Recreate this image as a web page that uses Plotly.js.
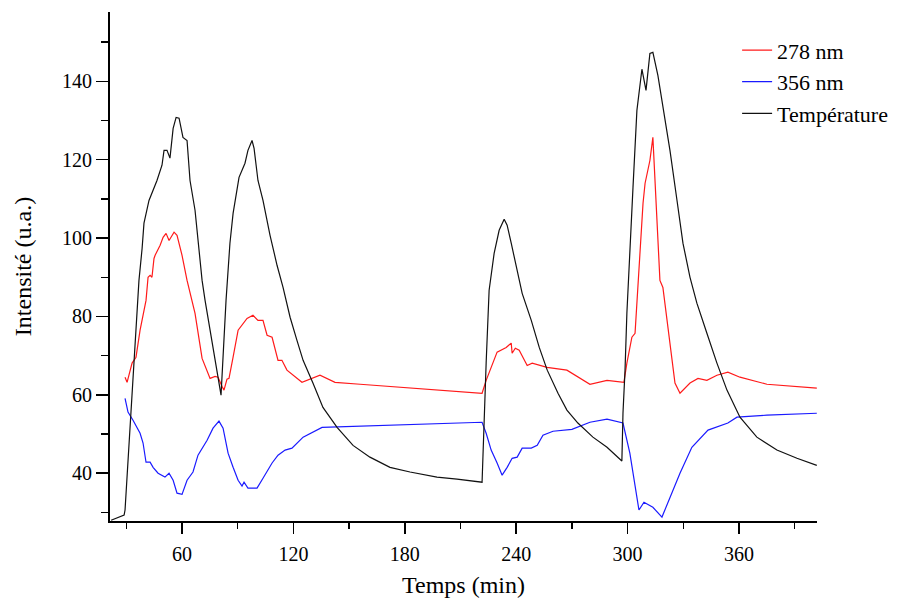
<!DOCTYPE html>
<html>
<head>
<meta charset="utf-8">
<script src="https://cdn.plot.ly/plotly-3.0.1.min.js"></script>
<style>html,body{margin:0;padding:0;background:#fff;}#chart{width:904px;height:598px;}</style>
</head>
<body>
<div id="chart"></div>
<script>
// Temps (min) and values
const tempT = [21.8,28.8,29.3,36.8,38.5,39.5,42.2,43.8,46.5,49.2,50.3,51.9,53.5,55.2,56.8,58.4,60.5,62.7,64.3,67.0,70.8,72.4,81.0,83.7,85.8,87.5,90.7,93.9,95.5,97.7,98.8,100.9,103.6,107.4,111.2,114.4,118.2,121.9,125.2,130.5,135.9,143.5,152.1,161.2,172.0,182.8,197.3,208.1,221.6,223.8,225.4,228.1,230.8,233.5,235.1,237.3,240.0,243.2,248.1,252.4,256.7,262.5,267.3,273.2,281.3,288.9,296.9,297.5,298.6,299.6,302.9,305.0,307.7,309.9,312.0,313.6,316.3,318.5,322.8,326.6,329.8,333.6,337.3,342.7,348.1,353.5,360.5,369.6,380.4,391.2,401.9];
const tempV = [28.0,29.3,30.6,89.2,97.4,103.8,109.6,111.4,114.7,118.6,122.4,122.4,120.4,128.0,130.8,130.6,125.7,124.9,114.7,107.1,89.2,84.1,59.9,84.1,98.7,106.3,115.5,119.1,122.4,124.9,122.9,114.7,109.6,100.7,93.0,87.4,79.8,73.9,68.8,63.0,56.8,51.7,47.1,44.1,41.5,40.3,39.0,38.5,37.7,68.1,86.7,96.1,102.0,104.8,103.3,98.7,92.6,85.9,79.0,72.1,66.3,60.4,56.1,52.8,49.2,46.6,43.1,55.3,66.3,80.8,113.0,132.6,143.1,137.7,147.1,147.4,141.5,135.2,122.4,109.6,98.7,90.0,83.4,75.7,68.1,61.2,54.3,49.2,45.9,43.8,42.0];

const redT = [29.3,30.4,33.1,35.2,37.4,40.6,41.7,42.8,43.8,44.9,45.5,48.2,49.8,51.4,53.0,55.7,57.3,60.0,62.7,67.0,70.8,75.1,77.8,79.4,81.5,82.6,84.2,85.3,87.5,90.2,95.0,98.2,100.9,103.6,105.8,108.5,111.7,113.8,116.5,124.6,134.3,142.4,155.9,221.6,223.8,226.5,228.1,229.7,234.6,237.3,237.8,239.5,241.6,245.9,248.6,256.6,267.3,279.7,288.9,298.0,299.6,302.3,304.0,306.7,308.3,309.4,312.0,313.6,315.8,317.4,319.0,325.5,328.2,333.6,337.9,342.7,348.1,354.0,360.5,375.0,401.9];
const redV = [64.5,63.2,68.1,69.6,76.5,84.1,90.0,90.5,90.0,94.8,95.6,98.2,100.2,101.2,99.4,101.5,100.7,95.6,89.2,80.8,69.3,64.2,64.7,64.5,62.2,61.2,64.0,64.2,69.6,76.5,79.5,80.3,79.0,79.0,75.2,74.7,68.8,68.8,66.3,63.2,65.0,63.2,62.7,60.4,63.7,66.8,68.8,70.9,72.1,73.2,70.6,71.9,71.4,67.5,68.1,67.0,66.3,62.7,63.7,63.2,68.1,74.7,75.7,96.1,108.9,114.0,119.8,125.7,104.5,89.2,87.4,63.0,60.4,63.0,64.2,63.7,65.0,65.8,64.5,62.7,61.7];

const blueT = [29.3,30.9,33.6,37.4,39.0,40.6,42.8,44.4,47.1,50.8,53.0,55.2,57.3,60.0,62.7,65.9,68.6,73.5,76.7,79.9,82.1,84.8,87.5,90.2,92.3,93.4,95.5,100.4,103.6,108.5,111.7,115.5,119.2,125.2,135.4,155.9,221.6,223.8,226.5,229.7,232.4,235.1,237.8,240.5,243.2,248.1,251.3,254.4,259.8,270.0,279.7,288.9,297.5,301.2,304.0,306.1,308.8,313.6,318.5,323.9,328.2,334.6,343.3,354.0,358.9,375.0,401.9];
const blueV = [59.1,55.6,53.5,50.2,47.7,42.8,42.8,41.5,40.0,39.0,40.0,38.2,34.9,34.6,38.2,40.3,44.6,48.4,51.5,53.3,51.5,45.1,41.5,38.2,36.7,37.7,36.2,36.2,38.7,42.6,44.6,45.9,46.4,49.2,51.7,52.0,53.0,50.2,45.9,42.6,39.5,41.5,43.8,44.1,46.4,46.4,47.1,49.7,50.7,51.2,53.0,53.8,52.8,45.1,36.4,30.6,32.6,31.3,28.8,34.9,40.0,46.6,51.0,52.8,54.3,54.8,55.3];

const seriesNames = ['278 nm','356 nm','Température'];
const xTickVals = [60,120,180,240,300,360];
const yTickVals = [40,60,80,100,120,140];

const serif = 'Liberation Serif, Times New Roman, serif';
const traces = [
  {x: redT, y: redV, name: seriesNames[0], mode: 'lines', line: {color: '#ff1a1a', width: 1.2}},
  {x: blueT, y: blueV, name: seriesNames[1], mode: 'lines', line: {color: '#1a1aff', width: 1.2}},
  {x: tempT, y: tempV, name: seriesNames[2], mode: 'lines', line: {color: '#111111', width: 1.2}}
];

const layout = {
  width: 904, height: 598,
  margin: {l: 110, r: 87, t: 12, b: 77, autoexpand: false},
  paper_bgcolor: '#ffffff', plot_bgcolor: '#ffffff',
  font: {family: serif, color: '#000', size: 20},
  showlegend: true,
  legend: {x: 0.887, y: 0.966, xanchor: 'left', yanchor: 'top', bgcolor: 'rgba(0,0,0,0)',
           font: {family: serif, size: 22, color: '#000'}, tracegroupgap: 0},
  xaxis: {
    range: [21.2, 402], tickvals: xTickVals, ticktext: xTickVals.map(String),
    showgrid: false, zeroline: false, showline: true, linecolor: '#000', linewidth: 2,
    ticks: 'outside', ticklen: 11, tickwidth: 1.5, tickcolor: '#000', ticklabelstandoff: 3,
    tickfont: {family: serif, size: 20, color: '#000'},
    minor: {dtick: 30, tick0: 0, ticks: 'outside', ticklen: 6, tickwidth: 1.5, tickcolor: '#000', showgrid: false},
    title: {text: 'Temps (min)', font: {family: serif, size: 24, color: '#000'}, standoff: 12}
  },
  yaxis: {
    range: [27.8, 157.7], tickvals: yTickVals, ticktext: yTickVals.map(String),
    showgrid: false, zeroline: false, showline: true, linecolor: '#000', linewidth: 2,
    ticks: 'outside', ticklen: 12, tickwidth: 1.5, tickcolor: '#000',
    tickfont: {family: serif, size: 20, color: '#000'},
    minor: {dtick: 10, tick0: 0, ticks: 'outside', ticklen: 7, tickwidth: 1.5, tickcolor: '#000', showgrid: false},
    title: {text: 'Intensité (u.a.)', font: {family: serif, size: 24, color: '#000'}, standoff: 24}
  }
};

Plotly.newPlot('chart', traces, layout, {displayModeBar: false, staticPlot: true});
</script>
</body>
</html>
